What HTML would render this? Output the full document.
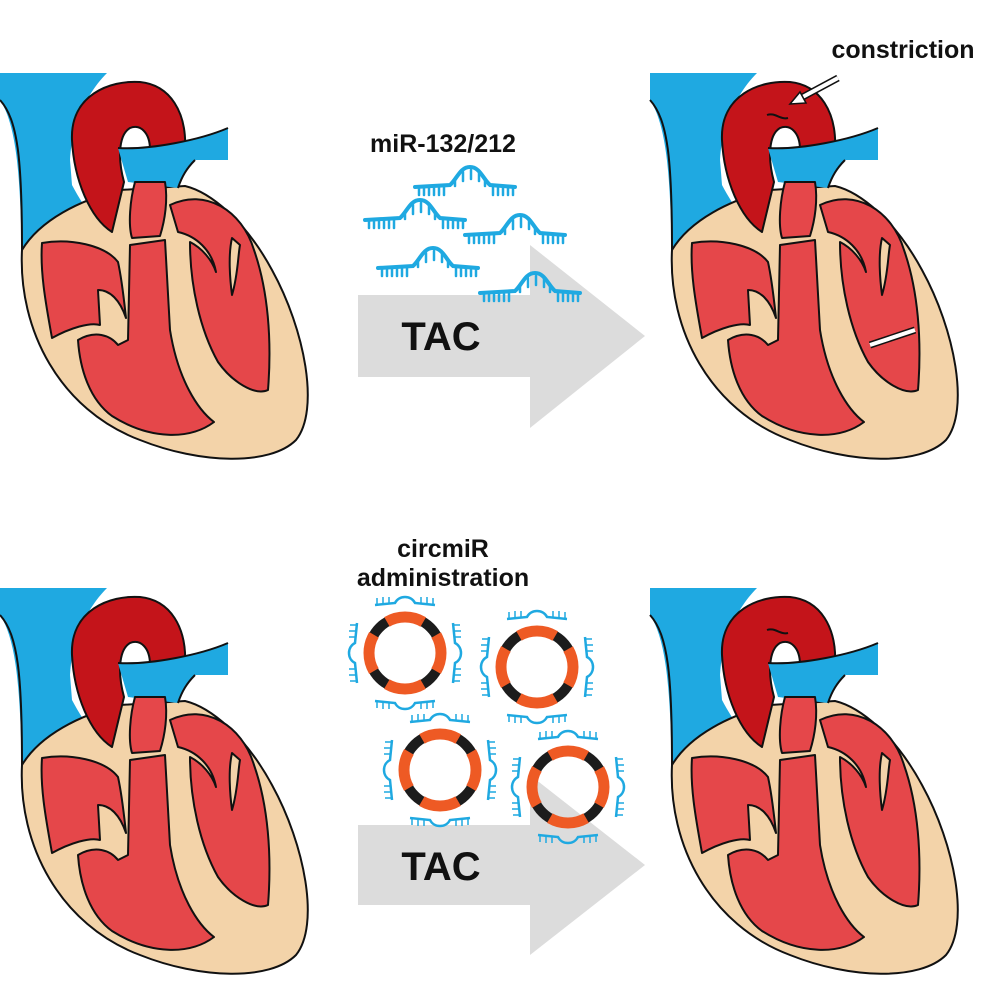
<!DOCTYPE html>
<html><head><meta charset="utf-8"><style>
html,body{margin:0;padding:0;background:#fff;}
svg{display:block;}
text{font-family:"Liberation Sans",sans-serif;font-weight:bold;fill:#111;}
</style></head><body>
<svg width="996" height="996" viewBox="0 0 996 996" xmlns="http://www.w3.org/2000/svg">
<defs>
<g id="heart" stroke="#111" stroke-width="2" stroke-linejoin="round">
  <path d="M0,73 L107,73 C90,90 72,120 70,160 L72,185 C85,210 105,235 118,245 L22,250 C20,200 20,130 0,100 Z" fill="#1fa9e1" stroke="none"/>
  <path d="M0,100 C18,120 22,160 22,250" fill="none"/>
  <path d="M22,250 C18,330 60,410 140,440 C200,464 270,466 296,440 C320,410 305,330 272,270 C245,220 210,192 185,186 L120,190 C80,200 40,220 22,250 Z" fill="#f3d3a9"/>
  <path d="M72,140 C70,95 110,80 140,82 C170,85 187,112 185,150 L150,150 C150,132 140,124 130,128 C118,135 118,160 124,182 L112,232 C90,218 74,180 72,140 Z" fill="#c4141a"/>
  <path d="M118,148 C150,150 200,140 228,128 L228,160 L195,160 C187,168 182,176 178,188 L128,182 Z" fill="#1fa9e1" stroke="none"/>
  <path d="M118,148 C150,150 200,140 228,128 M195,160 C187,168 182,176 178,188" fill="none"/>
  <path d="M135,182 C130,200 128,225 132,238 L160,236 C165,220 168,200 165,182 Z" fill="#e5474a"/>
  <path d="M42,243 C70,238 105,245 118,262 C122,280 124,300 126,318 C120,300 110,290 98,290 L100,325 C90,322 70,328 52,338 C45,300 40,270 42,243 Z M78,340 C95,330 110,335 118,345 L128,340 L130,245 L165,240 L170,330 C178,380 198,410 214,422 C190,440 150,440 112,416 C90,400 80,370 78,340 Z" fill="#e5474a"/>
  <path d="M170,205 C205,188 242,210 254,250 C268,290 272,340 268,390 C255,396 232,382 218,362 C200,330 190,285 190,242 C202,248 212,260 216,272 C212,250 196,236 178,232 Z" fill="#e5474a"/>
  <path d="M232,238 C228,255 230,280 232,295 C238,275 238,255 240,245 Z" fill="#f3d3a9"/>
</g>
<g id="mir" fill="none" stroke="#1fa9e1" stroke-linecap="round">
  <path d="M0,0 L35,-2 C42,-8 45,-20 55,-20 C65,-20 68,-8 75,-2 L100,0" stroke-width="4"/>
  <path d="M4,0v8M9,0v8M14,0v8M19,0v8M24,0v8M29,0v8M78,0v8M83,0v8M88,0v8M93,0v8M98,0v8M40,-8v7M48,-15v9M56,-17v9M64,-15v9M70,-8v7" stroke-width="2.5"/>
</g>
<g id="ring">
  <circle r="36" fill="none" stroke="#1c1c1c" stroke-width="10"/>
  <circle r="36" fill="none" stroke="#ee5a24" stroke-width="11" stroke-dasharray="38 18.5" stroke-dashoffset="19" transform="rotate(0)"/>
  <g fill="none" stroke="#1fa9e1" stroke-width="2.5">
    <path d="M-30,-48 L-10,-50 C-6,-58 6,-58 10,-50 L30,-48"/>
    <path d="M-30,48 L-10,50 C-6,58 6,58 10,50 L30,48"/>
    <path d="M-48,-30 L-50,-10 C-58,-6 -58,6 -50,10 L-48,30"/>
    <path d="M48,-30 L50,-10 C58,-6 58,6 50,10 L48,30"/>
  </g>
  <g fill="none" stroke="#1fa9e1" stroke-width="1.5">
    <path d="M-28,-48v-7M-22,-49v-7M-16,-49v-7M16,-49v-7M22,-49v-7M28,-48v-7"/>
    <path d="M-28,48v7M-22,49v7M-16,49v7M16,49v7M22,49v7M28,48v7"/>
    <path d="M-48,-28h-7M-49,-22h-7M-49,-16h-7M-49,16h-7M-49,22h-7M-48,28h-7"/>
    <path d="M48,-28h7M49,-22h7M49,-16h7M49,16h7M49,22h7M48,28h7"/>
  </g>
</g>
</defs>
<use href="#heart"/>
<use href="#heart" x="650"/>
<use href="#heart" y="515"/>
<use href="#heart" x="650" y="515"/>
<path d="M767,115 C775,112 780,120 788,118" stroke="#111" stroke-width="2" fill="none"/>
<path d="M838,78 L797,100" stroke="#111" stroke-width="7"/>
<path d="M838,78 L797,100" stroke="#fff" stroke-width="4"/>
<path d="M790,104 L800,92 L806,103 Z" fill="#fff" stroke="#111" stroke-width="1.5"/>
<path d="M870,345 L915,330" stroke="#111" stroke-width="7"/>
<path d="M870,345 L915,330" stroke="#fff" stroke-width="4"/>
<path d="M767,630 C775,627 780,635 788,633" stroke="#111" stroke-width="2" fill="none"/>
<path d="M358,295 L530,295 L530,245 L645,336 L530,428 L530,377 L358,377 Z" fill="#dcdcdc"/>
<path d="M358,825 L530,825 L530,775 L645,865 L530,955 L530,905 L358,905 Z" fill="#dcdcdc"/>
<text x="441" y="350" font-size="40" text-anchor="middle">TAC</text>
<text x="441" y="880" font-size="40" text-anchor="middle">TAC</text>
<text x="443" y="152" font-size="25" text-anchor="middle">miR-132/212</text>
<text x="903" y="58" font-size="25" text-anchor="middle">constriction</text>
<text x="443" y="557" font-size="25" text-anchor="middle">circmiR</text>
<text x="443" y="586" font-size="25" text-anchor="middle">administration</text>
<use href="#mir" x="415" y="187"/>
<use href="#mir" x="365" y="220"/>
<use href="#mir" x="465" y="235"/>
<use href="#mir" x="378" y="268"/>
<use href="#mir" x="480" y="293"/>
<use href="#ring" x="405" y="653"/>
<use href="#ring" x="537" y="667"/>
<use href="#ring" x="440" y="770"/>
<use href="#ring" x="568" y="787"/>
</svg>
</body></html>
